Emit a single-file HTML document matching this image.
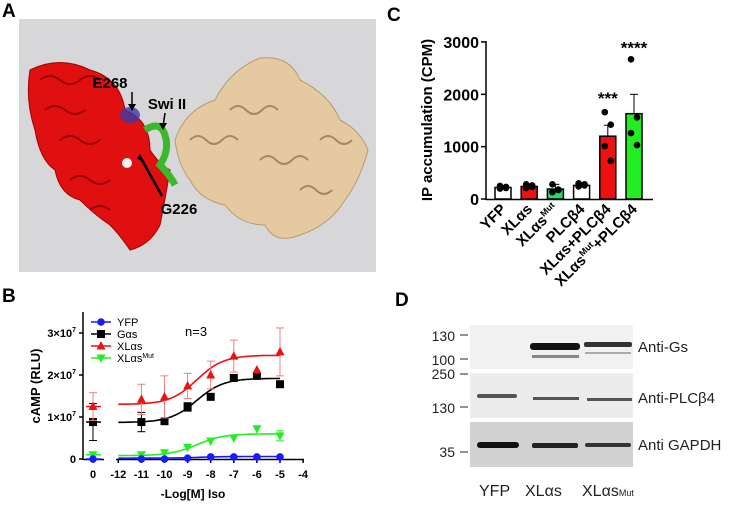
<!DOCTYPE html>
<html><head><meta charset="utf-8">
<style>
html,body{margin:0;padding:0;background:#fff;}
svg{display:block;font-family:"Liberation Sans",Arial,sans-serif;}
</style></head>
<body>
<svg id="fig" width="730" height="506" viewBox="0 0 730 506" xmlns="http://www.w3.org/2000/svg">
<!-- Panel A -->
<g>
<text x="2" y="17" font-size="19" font-weight="bold">A</text>
<rect x="19" y="19" width="357" height="253" fill="#d7d6d8"/>
<g fill="#e01010" stroke="#a00000" stroke-width="1">
<path d="M30 70 Q60 55 90 70 Q120 78 125 110 Q150 120 150 150 Q160 165 170 170 Q165 200 160 225 Q150 245 130 250 Q120 235 110 225 Q95 215 80 200 Q60 195 55 170 Q40 160 35 130 Q25 100 30 70Z"/>
<path d="M40 80 q10 -8 20 0 q10 8 20 0 q10 -8 20 0 M45 110 q10 -8 20 0 q10 8 20 0 M60 140 q10 -8 20 0 q10 8 20 0 M70 180 q10 -8 20 0 q10 8 20 0 M90 210 q10 -8 20 0" fill="none" stroke="#900" stroke-width="2"/>
</g>
<path d="M145 130 Q160 120 165 135 Q170 150 160 165 Q170 175 175 185" fill="none" stroke="#3cb82c" stroke-width="7"/>
<ellipse cx="130" cy="115" rx="10" ry="8" fill="#3a3aa8" opacity="0.8"/>
<circle cx="127" cy="163" r="5" fill="#f4f4f4"/>
<g fill="#e5c9a1" stroke="#b89a70" stroke-width="1">
<path d="M175 140 Q185 110 215 100 Q230 70 260 58 Q290 55 300 80 Q330 95 340 120 Q360 130 368 150 Q360 180 345 200 Q330 225 300 235 Q275 245 265 225 Q240 225 225 205 Q200 200 190 180 Q178 165 175 140Z"/>
<path d="M190 140 q8 -8 16 0 q8 8 16 0 q8 -8 16 0 M230 110 q8 -8 16 0 q8 8 16 0 q8 -8 16 0 M260 160 q8 -8 16 0 q8 8 16 0 q8 -8 16 0 M300 190 q8 -8 16 0 q8 8 16 0 M320 140 q8 -8 16 0 q8 8 16 0" fill="none" stroke="#a8885e" stroke-width="2"/>
</g>
<text x="110" y="88" font-size="15" font-weight="bold" text-anchor="middle">E268</text>
<line x1="132" y1="92" x2="132" y2="108" stroke="#000" stroke-width="1.5"/>
<path d="M128 104 L132 111 L136 104Z" fill="#000"/>
<text x="167" y="109" font-size="15" font-weight="bold" text-anchor="middle">Swi II</text>
<line x1="165" y1="113" x2="163" y2="127" stroke="#000" stroke-width="1.5"/>
<path d="M159 123 L163 130 L167 123Z" fill="#000"/>
<line x1="162" y1="196" x2="142" y2="160" stroke="#000" stroke-width="2.5"/>
<path d="M137 158 L140 154 L146 165Z" fill="#000"/>
<text x="179" y="214" font-size="15" font-weight="bold" text-anchor="middle">G226</text>
</g>

<!-- Panel C -->
<g>
<text x="387" y="21" font-size="19" font-weight="bold">C</text>
<g id="cChart"></g>
</g>

<!-- Panel B -->
<g>
<text x="2" y="302" font-size="19" font-weight="bold">B</text>
<g id="bChart"></g>
</g>

<!-- Panel D -->
<g>
<text x="395" y="306" font-size="19" font-weight="bold">D</text>
<rect x="470" y="325" width="163" height="44" fill="#f1f1f1"/>
<rect x="470" y="373" width="163" height="45" fill="#ececec"/>
<rect x="470" y="422" width="163" height="45" fill="#d2d2d2"/>
<rect x="530" y="343" width="50" height="7" rx="3" fill="#111"/>
<rect x="532" y="355" width="47" height="3" fill="#888"/>
<rect x="584" y="342" width="48" height="5" rx="2" fill="#333"/>
<rect x="585" y="352" width="46" height="2" fill="#aaa"/>
<rect x="477" y="394" width="40" height="4" rx="2" fill="#555"/>
<rect x="533" y="397" width="46" height="3" fill="#555"/>
<rect x="587" y="398" width="45" height="3" fill="#555"/>
<rect x="477" y="442" width="42" height="6" rx="3" fill="#111"/>
<rect x="532" y="443" width="46" height="5" rx="2" fill="#222"/>
<rect x="585" y="443" width="46" height="4" rx="2" fill="#333"/>
<g font-size="14" fill="#222">
<text x="455" y="341" text-anchor="end">130</text>
<text x="455" y="365" text-anchor="end">100</text>
<text x="455" y="379" text-anchor="end">250</text>
<text x="455" y="413" text-anchor="end">130</text>
<text x="455" y="457" text-anchor="end">35</text>
</g>
<g stroke="#222" stroke-width="1">
<line x1="460" y1="335" x2="468" y2="335"/><line x1="460" y1="359" x2="468" y2="359"/><line x1="460" y1="374" x2="468" y2="374"/><line x1="460" y1="407" x2="468" y2="407"/><line x1="460" y1="452" x2="468" y2="452"/>
</g>
<g font-size="15" fill="#222">
<text x="638" y="352">Anti-Gs</text>
<text x="638" y="403">Anti-PLCβ4</text>
<text x="638" y="450">Anti GAPDH</text>
</g>
<g font-size="16" fill="#222">
<text x="479" y="496">YFP</text>
<text x="525" y="496">XLαs</text>
<text x="582" y="496">XLαs<tspan font-size="9">Mut</tspan></text>
</g>
</g>

<script>
var NS="http://www.w3.org/2000/svg";
function mk(parent,tag,attrs,txt){var e=document.createElementNS(NS,tag);for(var k in attrs)e.setAttribute(k,attrs[k]);if(txt!==undefined)e.textContent=txt;parent.appendChild(e);return e;}

/* ---- Panel C data ---- */
var cCategories=["YFP","XLαs","XLαsMut","PLCβ4","XLαs+PLCβ4","XLαsMut+PLCβ4"];
var cMeans=[220,240,190,260,1200,1630];
var cErrors=[30,40,90,30,210,370];
var cPoints=[[200,230,250,210],[210,260,280,230],[280,180,130,170],[240,280,300,260],[1660,1420,1010,730],[2670,1560,1260,1030]];
var cFill=["#ffffff","#ee1111","#22dd66","#ffffff","#ee1111","#22ee22"];
var cStars=["","","","","***","****"];
var cTicks=[0,1000,2000,3000];

var cg=document.getElementById('cChart');
function cy(v){return 199-v*(157/3000);}
function cx(i){return 503+i*26.2;}
mk(cg,'line',{x1:486,y1:41,x2:486,y2:200,stroke:'#000','stroke-width':1.5});
mk(cg,'line',{x1:486,y1:199.5,x2:653,y2:199.5,stroke:'#000','stroke-width':1.5});
cTicks.forEach(function(t){
  mk(cg,'line',{x1:481,y1:cy(t),x2:486,y2:cy(t),stroke:'#000','stroke-width':1.5});
  var tx=mk(cg,'text',{x:479,y:cy(t)+6,'font-size':16,'font-weight':'bold','text-anchor':'end'},t);
  
  
});
var yt=mk(cg,'text',{x:0,y:0,'font-size':15,'font-weight':'bold','text-anchor':'middle',transform:'translate(432,120) rotate(-90)'},'IP accumulation (CPM)');


cCategories.forEach(function(c,i){
  var x=cx(i);
  var b=mk(cg,'rect',{x:x-8,y:cy(cMeans[i]),width:16,height:cy(0)-cy(cMeans[i]),fill:cFill[i],stroke:'#000','stroke-width':1.5});
  
  
  var top=cy(cMeans[i]+cErrors[i]);
  mk(cg,'line',{x1:x,y1:cy(cMeans[i]),x2:x,y2:top,stroke:'#000','stroke-width':1});
  mk(cg,'line',{x1:x-4,y1:top,x2:x+4,y2:top,stroke:'#000','stroke-width':1});
  cPoints[i].forEach(function(p,j){
    var d=mk(cg,'circle',{cx:x+(j%2?3:-3),cy:cy(p),r:3.3,fill:'#000'});
    
    
  });
  if(cStars[i]){
    var s=mk(cg,'text',{x:x,y:cy(i==4?1820:2780),'font-size':17,'font-weight':'bold','text-anchor':'middle'},cStars[i]);
    
    
  }
  var t=mk(cg,'text',{x:0,y:0,'font-size':15,'font-weight':'bold','text-anchor':'end',transform:'translate('+(x+4)+',210) rotate(-45)'});
  
  
  if(c.indexOf('Mut')>=0){
    var parts=c.split('Mut');
    var a=document.createElementNS(NS,'tspan');a.textContent=parts[0];t.appendChild(a);
    var m=document.createElementNS(NS,'tspan');m.textContent='Mut';m.setAttribute('font-size','9');m.setAttribute('dy','-6');t.appendChild(m);
    if(parts[1]){var r=document.createElementNS(NS,'tspan');r.textContent=parts[1];r.setAttribute('dy','6');t.appendChild(r);}
  } else t.textContent=c;
});

/* ---- Panel B data ---- */
var bXValues=[0,-11,-10,-9,-8,-7,-6,-5];  /* first entry = baseline (no Iso) */
var bSeriesNames=["YFP","Gαs","XLαs","XLαsMut"];
var bYFP=[0.0,0.0,0.0,0.02,0.05,0.05,0.05,0.05];
var bGas=[0.88,0.88,0.9,1.24,1.48,1.93,1.98,1.78];
var bXLas=[1.25,1.42,1.48,1.74,2.0,2.45,2.12,2.55];
var bMut=[0.1,0.1,0.15,0.28,0.43,0.5,0.72,0.55];
var bXLasErr=[0.33,0.36,0.5,0.3,0.33,0.38,0.0,0.57];
var bGasErr=[0.44,0.23,0.03,0.1,0.05,0.03,0.03,0.05];
var bMutErr=[0.03,0.03,0.03,0.03,0.03,0.03,0.03,0.12];
var bFitBottom=[0.02,0.87,1.3,0.08];
var bFitTop=[0.06,1.92,2.47,0.6];
var bFitLogEC50=[-8.5,-8.6,-8.6,-8.6];
var bFitHill=[0.75,0.75,0.75,0.75];
var bXTicks=[-12,-11,-10,-9,-8,-7,-6,-5,-4];
var bYTicks=[0,1,2,3];

var bg=document.getElementById('bChart');
function bx(v){return v===0?93:118.3+(v+12)*23.1;}
function by(v){return 459-42*v;}
var colors=['#1a1aff','#000000','#ee1111','#22ee22'];
var bData=[bYFP,bGas,bXLas,bMut];
var bErr=[null,bGasErr,bXLasErr,bMutErr];
mk(bg,'line',{x1:83,y1:312,x2:83,y2:460,stroke:'#000','stroke-width':1.5});
mk(bg,'line',{x1:83,y1:459.5,x2:104,y2:459.5,stroke:'#000','stroke-width':1.5});
mk(bg,'line',{x1:116,y1:459.5,x2:304,y2:459.5,stroke:'#000','stroke-width':1.5});
bYTicks.forEach(function(t){
  mk(bg,'line',{x1:79,y1:by(t),x2:83,y2:by(t),stroke:'#000','stroke-width':1.5});
  var tx=mk(bg,'text',{x:76,y:by(t)+4,'font-size':11,'font-weight':'bold','text-anchor':'end'});
  
  
  if(t===0)tx.textContent='0';else{tx.textContent=t+'×10';var s=document.createElementNS(NS,'tspan');s.textContent='7';s.setAttribute('font-size','7');s.setAttribute('dy','-5');tx.appendChild(s);}
});
bXTicks.forEach(function(t){
  mk(bg,'line',{x1:bx(t),y1:459,x2:bx(t),y2:463,stroke:'#000','stroke-width':1.5});
  var tx=mk(bg,'text',{x:bx(t),y:478,'font-size':11,'font-weight':'bold','text-anchor':'middle'},t);
  
  
});
mk(bg,'line',{x1:93,y1:459,x2:93,y2:463,stroke:'#000','stroke-width':1.5});
var z=mk(bg,'text',{x:93,y:478,'font-size':11,'font-weight':'bold','text-anchor':'middle'},'0');


var xt=mk(bg,'text',{x:193,y:498,'font-size':12,'font-weight':'bold','text-anchor':'middle'},'-Log[M] Iso');


var ytb=mk(bg,'text',{x:0,y:0,'font-size':13,'font-weight':'bold','text-anchor':'middle',transform:'translate(40,386) rotate(-90)'},'cAMP (RLU)');


function marker(g,s,x,y){
  var c=colors[s];
  if(s===0)return mk(g,'circle',{cx:x,cy:y,r:3.8,fill:c});
  if(s===1)return mk(g,'rect',{x:x-4,y:y-4,width:8,height:8,fill:c});
  if(s===2)return mk(g,'path',{d:'M'+x+' '+(y-5)+' L'+(x+4.5)+' '+(y+3.5)+' L'+(x-4.5)+' '+(y+3.5)+'Z',fill:c});
  return mk(g,'path',{d:'M'+x+' '+(y+5)+' L'+(x+4.5)+' '+(y-3.5)+' L'+(x-4.5)+' '+(y-3.5)+'Z',fill:c});
}
[3,0,1,2].forEach(function(s){
  var col=colors[s];
  mk(bg,'line',{x1:86,y1:by(bData[s][0]),x2:101,y2:by(bData[s][0]),stroke:col,'stroke-width':1.5});
  var d='';
  for(var k=0;k<=70;k++){
    var lx=-12+k*0.1;
    var v=bFitBottom[s]+(bFitTop[s]-bFitBottom[s])/(1+Math.pow(10,bFitHill[s]*(bFitLogEC50[s]-lx)));
    d+=(k?'L':'M')+bx(lx).toFixed(1)+' '+by(v).toFixed(1);
  }
  var p=mk(bg,'path',{d:d,fill:'none',stroke:col,'stroke-width':1.6});
  
  
  bXValues.forEach(function(xv,i){
    var x=bx(xv),y=by(bData[s][i]);
    if(bErr[s]&&bErr[s][i]>0.05){
      var ec=s===2?'#f08080':col;
      mk(bg,'line',{x1:x,y1:by(bData[s][i]+bErr[s][i]),x2:x,y2:by(bData[s][i]-bErr[s][i]),stroke:ec,'stroke-width':1});
      mk(bg,'line',{x1:x-4,y1:by(bData[s][i]+bErr[s][i]),x2:x+4,y2:by(bData[s][i]+bErr[s][i]),stroke:ec,'stroke-width':1});
      mk(bg,'line',{x1:x-4,y1:by(bData[s][i]-bErr[s][i]),x2:x+4,y2:by(bData[s][i]-bErr[s][i]),stroke:ec,'stroke-width':1});
    }
    var m=marker(bg,s,x,y);
    
    
  });
});
bSeriesNames.forEach(function(n,s){
  var y=322+s*12;
  mk(bg,'line',{x1:91,y1:y,x2:111,y2:y,stroke:colors[s],'stroke-width':1.5});
  marker(bg,s,101,y);
  var t=mk(bg,'text',{x:117,y:y+4,'font-size':11});
  
  
  if(n.indexOf('Mut')>=0){t.textContent='XLαs';var sp=document.createElementNS(NS,'tspan');sp.textContent='Mut';sp.setAttribute('font-size','7');sp.setAttribute('dy','-4');t.appendChild(sp);}
  else t.textContent=n;
});
var nn=mk(bg,'text',{x:185,y:336,'font-size':13},'n=3');


</script>
</svg>
</body></html>
